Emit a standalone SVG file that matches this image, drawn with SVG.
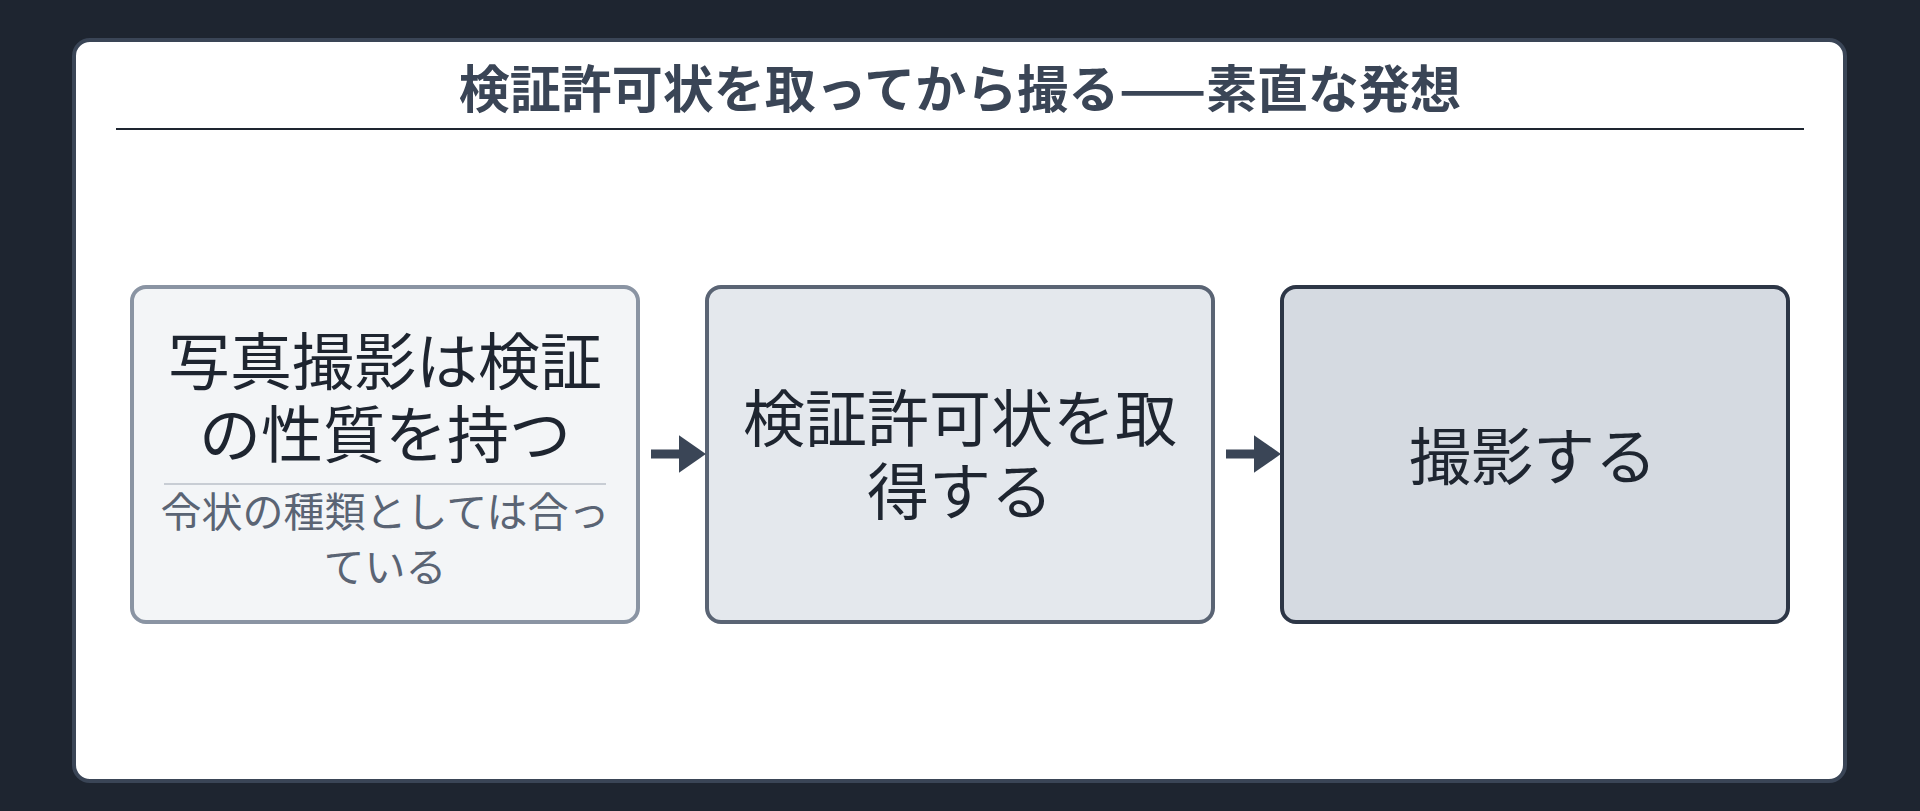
<svg xmlns="http://www.w3.org/2000/svg" width="1920" height="811" viewBox="0 0 1920 811">
<style>
text{font-family:"Noto Sans CJK JP","Noto Sans",sans-serif;text-anchor:middle;dominant-baseline:central}
.t{font-size:62px;fill:#1e2530}
.s{font-size:41px;fill:#5a6474}
</style>
<defs><marker id="ah" viewBox="0 0 10 14" refX="3" refY="7" markerWidth="3" markerHeight="4.4" orient="auto" markerUnits="strokeWidth"><path d="M0,0L10,7L0,14z" fill="#3a4556"/></marker></defs>
<rect width="1920" height="811" fill="#1e2530"/>
<rect x="74" y="40" width="1771" height="741" rx="16" fill="#fff" stroke="#3a4556" stroke-width="4"/>
<text x="960" y="86" font-size="51" font-weight="bold" fill="#3a4556">検証許可状を取ってから撮る——素直な発想</text>
<line x1="116" y1="129" x2="1804" y2="129" stroke="#1e2530" stroke-width="2"/>
<g id="n1"><rect x="132" y="287" width="506" height="335" rx="14" fill="#f3f5f7" stroke="#8a94a3" stroke-width="4"/>
<text class="t" x="385" y="358">写真撮影は検証</text><text class="t" x="385" y="431">の性質を持つ</text>
<line x1="164" y1="484" x2="606" y2="484" stroke="#c8cdd4" stroke-width="2"/>
<text class="s" x="385" y="509">令状の種類としては合っ</text><text class="s" x="385" y="564">ている</text></g>
<g id="n2"><rect x="707" y="287" width="506" height="335" rx="14" fill="#e4e8ed" stroke="#5a6474" stroke-width="4"/>
<text class="t" x="960" y="415">検証許可状を取</text><text class="t" x="960" y="488">得する</text></g>
<g id="n3"><rect x="1282" y="287" width="506" height="335" rx="14" fill="#d5dae1" stroke="#2d3646" stroke-width="4"/>
<text class="t" x="1533" y="453">撮影する</text></g>
<g id="edges" stroke="#3a4556" stroke-width="9" marker-end="url(#ah)">
<line x1="651" y1="454" x2="687" y2="454"/><line x1="1226" y1="454" x2="1262" y2="454"/></g>
</svg>
